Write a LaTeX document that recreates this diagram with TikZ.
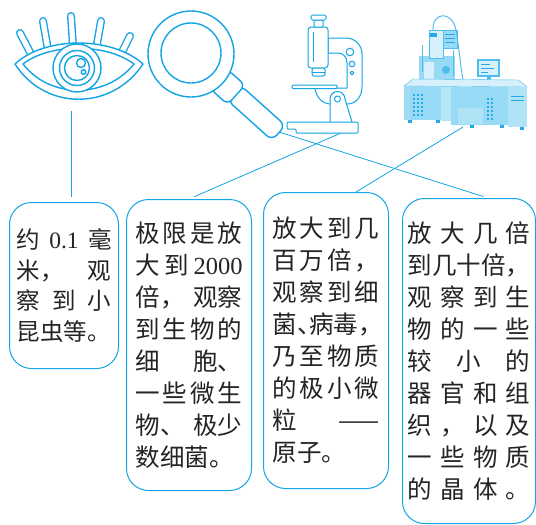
\documentclass[tikz,border=0pt]{standalone}
\usepackage{fontspec}
\usepackage{tikz}
\newfontfamily\cjk{Noto Sans CJK SC}
\newfontfamily\numfont{Liberation Serif}

\definecolor{lineblue}{RGB}{18,164,228}
\definecolor{inkgray}{RGB}{36,36,36}
\definecolor{semtop}{RGB}{214,240,252}
\definecolor{semface}{RGB}{150,218,245}
\definecolor{semedge}{RGB}{80,190,236}
\definecolor{semdark}{RGB}{40,168,228}

% one line of a box, characters spread over the full width
\makeatletter
\newcommand\spreadline[1]{\makebox[\linewidth][s]{\spread@first#1\spread@end}}
\def\spread@first#1{#1\spread@next}
\def\spread@next#1{\ifx\spread@end#1\else\hfil#1\expandafter\spread@next\fi}
\def\spread@end{}
\makeatother
% half-width punctuation
\newcommand\hp[1]{\makebox[.5em][l]{#1}}

\begin{document}
\begin{tikzpicture}[x=1pt, y=-1pt,
        icon/.style={draw=lineblue, line width=1.4pt, line join=round},
        scopeline/.style={draw=lineblue, line width=1pt, line join=round},
        infobox/.style={draw=lineblue, line width=1pt, rounded corners=22pt, anchor=north west,
            align=left, text=inkgray, inner ysep=0pt},
        link/.style={draw=lineblue, line width=0.8pt},
    ]
    \useasboundingbox (0,0) rectangle (536,525);

    % eye
    \foreach \xa/\ya/\xb/\yb in {20/33/32/56, 43/21/48/50, 71/16/73/46, 101/21/96/50, 130/36/120/56}{
        \draw[lineblue, line width=8pt, line cap=round] (\xa,\ya) -- (\xb,\yb);
        \draw[white, line width=5.2pt, line cap=round] (\xa,\ya) -- (\xb,\yb);
    }
    \draw[icon, fill=white] (15,64) .. controls (45,36) and (112,36) .. (143,64)
        .. controls (112,111) and (45,111) .. cycle;
    \draw[icon] (23,64) .. controls (50,43) and (106,43) .. (134,64)
        .. controls (106,99) and (50,99) .. cycle;
    \draw[icon, fill=white] (77,68) circle (24pt);
    \draw[icon] (77,68) circle (17.5pt) (77,68) circle (12.5pt);
    \draw[icon] (81,63) circle (4.5pt) (83.5,72) circle (2.3pt);
    \coordinate (eyefoot) at (71,111);

    % magnifier
    \begin{scope}[shift={(191,54)}, rotate=-42]
        \draw[icon, fill=white, rounded corners=7pt] (58,-10) rectangle (118,10);
        \draw[icon, fill=white, rounded corners=6pt] (38,-13) rectangle (61,13);
    \end{scope}
    \draw[icon, fill=white] (191,54) circle (43pt);
    \draw[icon] (191,53) circle (30pt);
    \coordinate (lensfoot) at (279,132);

    % microscope
    \draw[scopeline, fill=white] (328,38) -- (346,38) arc[start angle=90, end angle=0, radius=16pt]
        -- (362,86) .. controls (362,97) and (356,104) .. (347,104) -- (331,104)
        .. controls (322,104) and (316,97) .. (315,88) -- (347,88) -- (347,63)
        .. controls (347,57) and (343,53) .. (338,53) -- (328,53) -- cycle;
    \draw[scopeline] (350,52) circle (3.8pt) (352,64) circle (2.8pt) (352,73) circle (1.8pt);
    \draw[scopeline, fill=white, rounded corners=3pt] (308,27) rectangle (328,68);
    \draw[scopeline] (313,32) -- (313,62);
    \draw[scopeline, fill=white, rounded corners=1pt] (314,20) rectangle (323,27);
    \draw[scopeline, fill=white, rounded corners=1.5pt] (311,15) rectangle (326,20);
    \draw[scopeline, fill=white, rounded corners=2pt] (312,68) rectangle (325,76);
    \draw[scopeline] (312,72) -- (325,72);
    \draw[scopeline, fill=white, rounded corners=1pt] (292,85) rectangle (337,88.5);
    \draw[scopeline, fill=white] (330,122) -- (330,99) arc[start angle=180, end angle=0, radius=7.5pt]
        -- (352,122);
    \draw[scopeline] (337.5,99) circle (3pt);
    \draw[scopeline, fill=white, rounded corners=1pt] (287,122) -- (358,122) -- (358,133)
        -- (296,133) -- (296,129) -- (287,129) -- cycle;
    \coordinate (scopefoot) at (341,133);

    % electron microscope
    \fill[semface] (419,56) rectangle (455,86);
    \fill[semtop] (424,62) rectangle (434,80);
    \fill[semedge] (446,70) circle (4pt);
    \draw[semedge, line width=1pt] (422,45) -- (422,72) (453,50) -- (453,76);
    \draw[semedge, fill=semtop, line width=0.5pt] (429,30) rectangle (443,58);
    \fill[semdark] (430,33) rectangle (437,37);
    \draw[semedge, fill=semface, line width=0.5pt] (443,30) rectangle (457,48);
    \foreach \y in {34,38,42}
        \draw[semdark, line width=0.6pt] (445,\y) -- (455,\y);
    \draw[semedge, line width=1pt] (433,30) .. controls (432,12) and (452,10) .. (456,30)
        .. controls (459,48) and (460,62) .. (463,80);
    \fill[semedge] (477,59) rectangle (500,77);
    \fill[semtop] (479,61) rectangle (498,75);
    \draw[semdark, line width=0.5pt] (481,64) -- (490,64) (481,68) -- (494,68) (481,72) -- (488,72);
    \fill[semedge] (487,77) rectangle (491,81);
    \draw[semedge, fill=semtop, line width=0.4pt] (404,86) -- (413,79) -- (519,80) -- (527,87) -- cycle;
    \fill[semface] (404,86) rectangle (441,120);
    \fill[semedge!55] (404,86) rectangle (410,120);
    \fill[semface!70!white] (441,87) rectangle (451,121);
    \fill[semface] (451,87) rectangle (508,125);
    \fill[semedge!45] (458,108) rectangle (483,124);
    \fill[semface!75!white] (508,87) rectangle (527,127);
    \draw[semdark, line width=0.5pt] (511,96) -- (524,96) (511,100) -- (524,100);
    \foreach \i in {0,...,5}
        \foreach \j in {0,1,2}
            \fill[semdark] ({413+\j*4},{94+\i*4}) rectangle ++(2.4,2.4);
    \foreach \i in {0,...,5}
        \foreach \j in {0,1}
            \fill[semdark] ({487+\j*4},{98+\i*4}) rectangle ++(2.4,2.4);
    \foreach \x/\y in {408/120, 436/120, 470/125, 500/125, 520/127}
        \fill[semdark] (\x,\y) rectangle ++(4,3);
    \coordinate (semfoot) at (463,127);

    % text boxes
    \node[infobox, text width=95pt, inner xsep=7pt, minimum height=166pt,
        font=\cjk\fontsize{23.5pt}{30.5pt}\selectfont] (eyebox) at (9,202) {%
        \spreadline{约{{\numfont 0.1}}毫}\\
        \spreadline{{米，}观}\\
        \spreadline{察到小}\\
        昆虫等。};
    \node[infobox, text width=107pt, inner xsep=9pt, minimum height=291pt,
        font=\cjk\fontsize{24.5pt}{32pt}\selectfont] (scopebox) at (126,199) {%
        \spreadline{极限是放}\\
        \spreadline{大到{{\numfont 2000}}}\\
        \spreadline{{倍，}{观察}}\\
        \spreadline{到生物的}\\
        \spreadline{细{胞、}}\\
        \spreadline{一些微生}\\
        \spreadline{{物、}{极少}}\\
        数细菌。};
    \node[infobox, text width=107pt, inner xsep=9pt, minimum height=296pt,
        font=\cjk\fontsize{24.5pt}{32pt}\selectfont] (labbox) at (263,192) {%
        \spreadline{放大到几}\\
        \spreadline{百万倍，}\\
        \spreadline{观察到细}\\
        菌\hp{、}病毒\hp{，}\\
        \spreadline{乃至物质}\\
        \spreadline{的极小微}\\
        \spreadline{粒{——}}\\
        原子。};
    \node[infobox, text width=123pt, inner xsep=5pt, minimum height=325pt,
        font=\cjk\fontsize{24.5pt}{32pt}\selectfont] (handbox) at (402,198) {%
        \spreadline{放大几倍}\\
        到几十倍，\\
        \spreadline{观察到生}\\
        \spreadline{物的一些}\\
        \spreadline{较小的}\\
        \spreadline{器官和组}\\
        \spreadline{织，以及}\\
        \spreadline{一些物质}\\
        \spreadline{的晶体。}};

    % connectors
    \draw[link, shorten >=5pt] (eyefoot) -- (eyefoot |- eyebox.north);
    \draw[link, shorten >=6pt] (scopefoot) -- (scopebox.north);
    \draw[link] (semfoot) -- ([xshift=30pt]labbox.north);
    \draw[link, shorten >=5pt] (lensfoot) -- ([xshift=19pt]handbox.north);
\end{tikzpicture}
\end{document}
